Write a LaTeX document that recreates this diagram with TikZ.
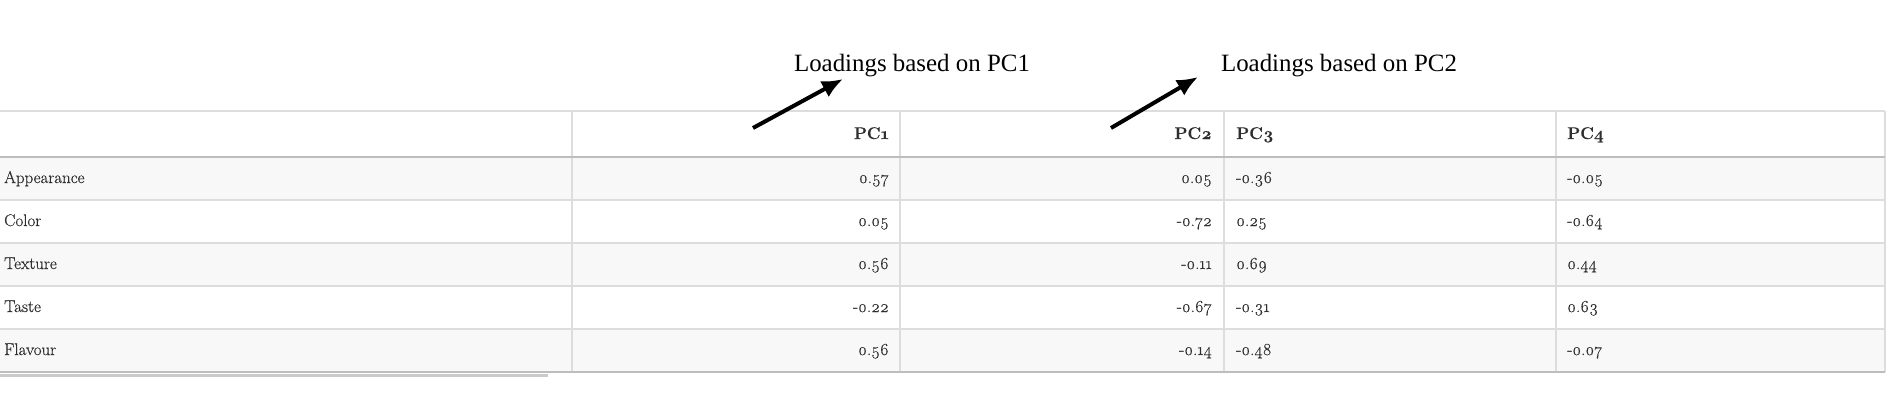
\documentclass[tikz,border=0pt]{standalone}
\usepackage{fontspec}
\usepackage{tikz}
\usetikzlibrary{arrows.meta}
\newfontfamily\notefont{Liberation Serif}
\newfontfamily\cellfont{Latin Modern Roman}[Numbers=OldStyle, FakeBold=0.35]
\definecolor{gridline}{HTML}{DDDDDD}
\definecolor{headline}{HTML}{BDBDBD}
\definecolor{stripe}{HTML}{F8F8F8}
\definecolor{ink}{HTML}{2E2E2E}
\tikzset{
  cell/.style={text=ink, inner sep=0pt, font=\cellfont\fontsize{17}{20}\selectfont},
  headcell/.style={text=ink, inner sep=0pt, font=\cellfont\bfseries\fontsize{17}{20}\selectfont},
  note/.style={inner sep=0pt, font=\notefont\fontsize{25}{30}\selectfont},
  pointer/.style={line width=4bp, -{Latex[length=21bp,width=18bp]}}
}

\begin{document}
\begin{tikzpicture}[x=1bp, y=-1bp]
\useasboundingbox (0,0) rectangle (1892,416);
% striped rows
\fill[stripe] (0,157) rectangle (1885,200);
\fill[stripe] (0,243) rectangle (1885,286);
\fill[stripe] (0,329) rectangle (1885,372);
% grid
\draw[gridline, line width=2bp] (0,111) -- (1885,111);
\draw[gridline, line width=2bp] (0,200) -- (1885,200);
\draw[gridline, line width=2bp] (0,243) -- (1885,243);
\draw[gridline, line width=2bp] (0,286) -- (1885,286);
\draw[gridline, line width=2bp] (0,329) -- (1885,329);
\draw[gridline, line width=2bp] (572,111) -- (572,372);
\draw[gridline, line width=2bp] (900,111) -- (900,372);
\draw[gridline, line width=2bp] (1224,111) -- (1224,372);
\draw[gridline, line width=2bp] (1556,111) -- (1556,372);
\draw[gridline, line width=2bp] (1885,111) -- (1885,372);
\draw[headline, line width=2.5bp] (0,157) -- (1885,157);
\draw[headline, line width=2.5bp] (0,372) -- (1885,372);
\draw[headline!80, line width=3bp] (0,375) -- (548,375);

% header
\node at (889,139) (hPC1) [headcell, anchor=base east] {PC1};
\node at (1212,139) (hPC2) [headcell, anchor=base east] {PC2};
\node at (1236,139) (hPC3) [headcell, anchor=base west] {PC3};
\node at (1567,139) (hPC4) [headcell, anchor=base west] {PC4};

% rows
\node at (4,183) (rApp) [cell, anchor=base west] {Appearance};
\node at (889,183) (app1) [cell, anchor=base east] {0.57};
\node at (1212,183) (app2) [cell, anchor=base east] {0.05};
\node at (1236,183) (app3) [cell, anchor=base west] {-0.36};
\node at (1567,183) (app4) [cell, anchor=base west] {-0.05};

\node at (4,226) (rCol) [cell, anchor=base west] {Color};
\node at (889,226) (col1) [cell, anchor=base east] {0.05};
\node at (1212,226) (col2) [cell, anchor=base east] {-0.72};
\node at (1236,226) (col3) [cell, anchor=base west] {0.25};
\node at (1567,226) (col4) [cell, anchor=base west] {-0.64};

\node at (4,269) (rTex) [cell, anchor=base west] {Texture};
\node at (889,269) (tex1) [cell, anchor=base east] {0.56};
\node at (1212,269) (tex2) [cell, anchor=base east] {-0.11};
\node at (1236,269) (tex3) [cell, anchor=base west] {0.69};
\node at (1567,269) (tex4) [cell, anchor=base west] {0.44};

\node at (4,312) (rTas) [cell, anchor=base west] {Taste};
\node at (889,312) (tas1) [cell, anchor=base east] {-0.22};
\node at (1212,312) (tas2) [cell, anchor=base east] {-0.67};
\node at (1236,312) (tas3) [cell, anchor=base west] {-0.31};
\node at (1567,312) (tas4) [cell, anchor=base west] {0.63};

\node at (4,355) (rFla) [cell, anchor=base west] {Flavour};
\node at (889,355) (fla1) [cell, anchor=base east] {0.56};
\node at (1212,355) (fla2) [cell, anchor=base east] {-0.14};
\node at (1236,355) (fla3) [cell, anchor=base west] {-0.48};
\node at (1567,355) (fla4) [cell, anchor=base west] {-0.07};

% notes
\node at (912,71) (notePC1) [note, anchor=base] {Loadings based on PC1};
\node at (1339,71) (notePC2) [note, anchor=base] {Loadings based on PC2};
\coordinate (tail1) at (753,128);
\coordinate (tip1) at (843,79);
\coordinate (tail2) at (1111,128);
\coordinate (tip2) at (1198,77);
\draw[pointer] (tail1) -- (tip1);
\draw[pointer] (tail2) -- (tip2);
\end{tikzpicture}
\end{document}
